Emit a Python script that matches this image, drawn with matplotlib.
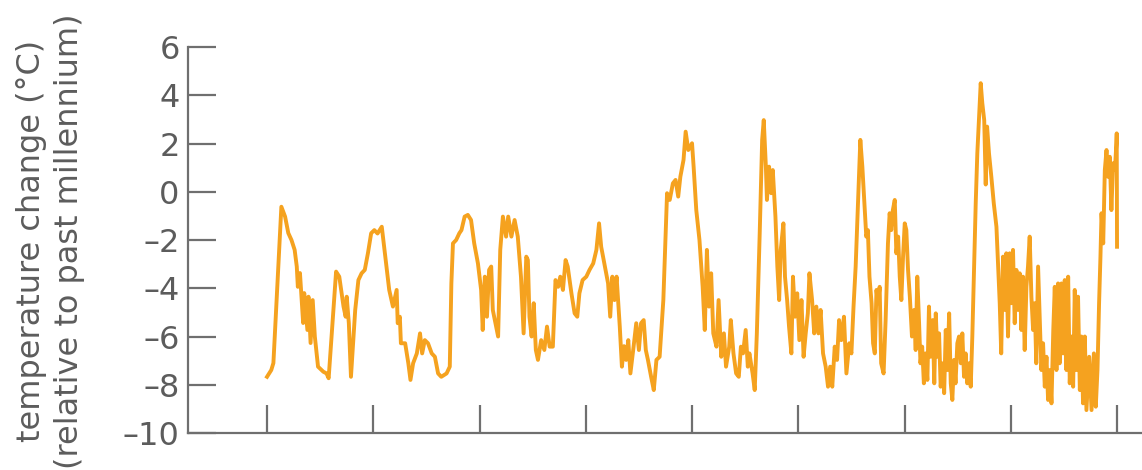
import matplotlib
matplotlib.use("Agg")
import matplotlib.pyplot as plt

# ice-core temperature record, thousands of years before present
age_kyr = [
    800, 796, 794, 786.5, 783, 780, 777, 774, 772, 771, 769, 768, 766, 765, 762, 761,
    759, 757, 755, 752, 747, 744, 742, 738, 735, 732, 728, 726, 725, 723, 721, 717,
    714, 711, 708, 705, 702, 699, 696, 692,
    688, 685, 681.5, 678, 677, 675, 674, 670, 667, 665, 662.5, 659, 656, 654, 651.5,
    648.5, 645, 642, 639, 636, 631, 628, 626.5, 625, 622, 619, 617, 614, 611, 608,
    605, 601.5, 598.5, 597, 595, 593, 591, 589, 587.5, 585, 582.5, 580.5, 578,
    575, 573, 570, 567, 564, 561, 558.5, 556, 554.5, 553, 551, 549, 547, 545, 542,
    539, 536.5, 534, 531, 528.5, 526, 524, 521.5, 519, 517, 513.5, 510.5, 508, 506,
    503, 499.5, 496.5, 493, 490, 487.5, 485.5, 482, 479, 477, 475, 473, 471, 468,
    466, 464, 462, 460, 458, 455, 452.5, 450, 448, 445.5, 443.5, 441.5, 438.5, 436,
    433.5, 430.5, 427, 425, 423.5, 421, 418, 415.5, 413, 411, 408, 406, 403.5, 400,
    398.5, 396, 393, 390, 388, 386, 384, 382, 380, 377, 375, 372.5, 370, 368, 365,
    363.5, 361, 358.5, 356, 354,
    352, 349.5, 347.5, 346, 343, 341, 339, 336.3, 334, 332.5, 330.5, 329.5, 327.5,
    325.5, 324, 321.5, 319.7, 318, 316.5, 314, 312.5, 310.5, 308.7, 306.5, 305, 303,
    301, 299, 297, 295, 293, 291, 289.5, 287, 285, 283, 281, 279, 276.7, 274.2, 272,
    270, 268, 265.7, 263.5, 261.6, 259.5, 257, 254.7, 252, 250, 248, 246, 243.7,
    241.6, 239.7,
    236, 234.5, 233, 231, 229.6, 228, 226.4, 225, 223.4, 222, 219.7, 217.8, 215.6,
    214, 212.5, 211, 209.2, 207.7, 206, 204.5, 203, 201.4, 199.8, 198.3, 196.7, 195,
    193, 191, 189.5, 188, 186.3, 185, 183.4, 181.8, 180.3, 178.5, 177, 175.5, 173.5,
    172, 170.6, 169, 167.5, 166, 164, 162.7, 161.2, 159.7, 158, 156.5, 155, 153.4,
    152, 150.3, 148.7, 147, 145.6, 144, 142.5, 141, 139.3, 137.7, 136.2, 134.6, 133,
    131.5, 130, 128.3,
    126.8, 125, 123.6, 122.3, 120.5, 118.3, 116, 113.5, 112, 110.4, 109, 107.3, 105.7,
    104.2, 102.6, 101, 99.5, 97.9, 96.3, 94.7, 93.2, 91.6, 90, 88.5, 86.9, 85.3, 83.8,
    82.2, 80.6, 79, 77.5, 76, 74.3, 72.7, 71.2, 69.6, 68, 66.4, 64.9, 63.3, 61.7, 60,
    58.6, 57, 55.5, 54, 52.3, 50.8, 49.2, 47.6, 46, 44.5, 42.9, 41.3, 39.8, 38.2,
    36.7, 35, 33.5, 32, 30.3, 28.8, 26.2, 24, 21.8, 20, 18.4, 16.9, 15.6, 14.6, 13,
    11.5, 9.9, 8.5, 6.8, 5.3, 3.7, 2, 0.6, 0.3, 0,
]
temp_c = [
    -7.67, -7.39, -7.1, -0.62, -1.03, -1.71, -2.0, -2.41, -3.1, -3.94, -3.37, -4.07,
    -5.44, -4.2, -5.73, -4.35, -6.27, -4.49, -6.0, -7.25, -7.46, -7.53, -7.73, -5.18,
    -3.31, -3.52, -4.76, -5.18, -4.35, -5.45, -7.67, -4.9, -3.66, -3.38, -3.24, -2.54,
    -1.72, -1.59, -1.73, -1.45,
    -2.97, -4.07, -4.76, -4.07, -5.45, -5.18, -6.28, -6.28, -7.11, -7.8, -7.11, -6.7,
    -5.87, -6.7, -6.15, -6.28, -6.7, -6.84, -7.53, -7.67, -7.53, -7.25, -3.8, -2.14,
    -2.0, -1.72, -1.59, -1.03, -0.96, -1.17, -2.14, -2.97, -4.07, -5.73, -3.52, -5.18,
    -3.24, -3.1, -4.9, -5.45, -6.0, -2.41, -1.03,
    -1.86, -1.03, -1.86, -1.17, -1.86, -3.52, -5.87, -2.69, -2.83, -5.18, -6.0, -4.62,
    -6.56, -6.97, -6.15, -6.56, -5.59, -6.42, -6.42, -3.66, -3.94, -3.52, -4.07, -2.83,
    -3.1, -4.21, -5.04, -5.18, -4.21, -3.66, -3.52, -3.24, -2.97, -2.41, -1.31, -2.28,
    -3.1, -3.8, -5.18, -3.52, -4.49, -3.52, -5.59,
    -7.25, -6.4, -6.97, -6.15, -7.53, -6.42, -5.45, -6.56, -5.45, -5.32, -6.56, -6.97,
    -7.67, -8.22, -6.97, -6.84, -4.49, -2.0, -0.06, -0.34, 0.35, 0.49, -0.2, 0.62,
    1.32, 2.49, 1.73, 2.01, 1.04, -0.76, -2.0, -3.94, -5.73, -2.41, -4.76, -3.38,
    -5.87, -6.42, -4.49, -6.84, -5.87, -7.25, -6.42, -5.32, -6.7, -7.53, -7.67, -6.42,
    -6.7, -5.73, -7.25, -6.7, -7.53, -8.22, -5.87, -1.72, 2.15, 2.97, 1.04, -0.34,
    1.04, -0.06, 0.9, -1.03, -3.1, -4.49, -2.41, -1.31, -3.52, -4.49, -5.59, -6.7,
    -3.52, -5.18, -4.21, -6.15, -4.49, -6.84, -5.87, -5.04, -3.38, -4.49, -5.87, -4.76,
    -5.87, -4.9, -6.7, -7.25, -8.08, -7.25, -8.08, -6.42, -6.97, -5.32, -6.15, -5.18,
    -7.53, -6.28, -6.7, -4.76, -3.1, -0.34, 2.15, 1.04,
    -1.86, -1.59, -3.52, -4.62, -6.28, -6.7, -4.07, -4.62, -3.94, -7.11, -7.53, -5.32,
    -2.14, -0.89, -1.59, -0.76, -0.34, -2.55, -1.86, -3.52, -4.49, -2.69, -1.31, -1.59,
    -3.24, -4.35, -6.0, -4.9, -6.56, -3.52, -5.45, -7.11, -6.42, -7.94, -6.7, -7.8,
    -4.76, -6.84, -5.32, -7.94, -5.04, -6.84, -5.87, -8.08, -7.11, -8.35, -5.73, -7.39,
    -5.04, -7.94, -8.63, -6.97, -7.94, -6.28, -6.0, -7.11, -5.87, -7.67, -6.7, -7.94,
    -7.11, -8.08, -6.0, -3.24, -0.48, 1.59, 2.97, 4.5,
    3.67, 2.97, 0.3, 2.7, 1.59, 0.62, -0.48, -1.45, -2.97, -4.62, -6.7, -2.69, -4.9,
    -2.55, -6.0, -2.55, -4.62, -2.41, -5.45, -3.24, -4.9, -3.38, -5.73, -3.52, -6.56,
    -3.94, -3.1, -1.86, -4.35, -5.73, -4.62, -7.11, -3.1, -5.32, -7.39, -6.28, -8.08,
    -6.84, -8.63, -7.39, -8.77, -5.73, -3.94, -7.39, -3.8, -7.11, -3.8, -6.7, -3.66,
    -7.39, -3.52, -7.94, -6.0, -8.08, -4.07, -7.39, -4.35, -8.22, -6.0, -8.77, -6.0,
    -9.05, -6.84, -9.05, -6.7, -8.91, -7.39, -4.62, -2.69, -0.89, -2.14, 0.9, 1.73,
    0.62, 1.45, -0.76, 1.18, 0.9, 2.01, 2.42, -2.28,
]
age_ticks = [800, 700, 600, 500, 400, 300, 200, 100, 0]
temp_ticks = [-10, -8, -6, -4, -2, 0, 2, 4, 6]

axis_grey = "#6f6f6f"
text_grey = "#5c5c5c"

fig = plt.figure(figsize=(11.42, 4.70), dpi=100)
ax = fig.add_axes([0.1646, 0.0787, 0.8354, 0.8213])

ax.plot(age_kyr, temp_c, color="#f5a21f", lw=2.8, solid_joinstyle="round")

ax.set_xlim(874.4, -23.5)
ax.set_ylim(-10, 6)
ax.set_xticks(age_ticks)
ax.set_xticklabels([])
ax.set_yticks(temp_ticks)
ax.set_yticklabels([str(t).replace("-", "\u2013") for t in temp_ticks])

for side in ["top", "right"]:
    ax.spines[side].set_visible(False)
for side in ["left", "bottom"]:
    ax.spines[side].set_color(axis_grey)
    ax.spines[side].set_linewidth(1.6)

ax.tick_params(axis="both", direction="in", length=20, width=1.6, color=axis_grey)
ax.tick_params(axis="y", labelsize=23, labelcolor=text_grey, pad=6)

fig.text(0.044, 0.487, "temperature change (\u00b0C)\n(relative to past millennium)",
         rotation=90, ha="center", va="center", fontsize=23, color=text_grey,
         linespacing=1.3)

fig.savefig("out.png", dpi=100)
